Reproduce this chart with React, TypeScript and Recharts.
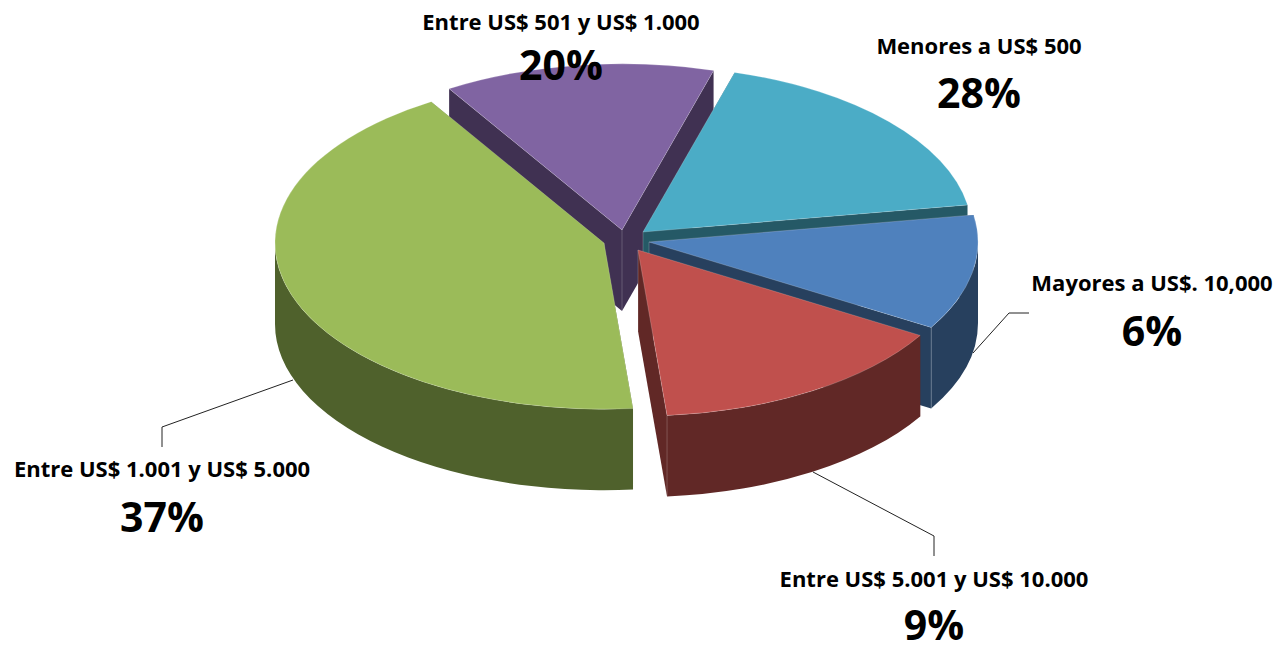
import React from 'react';
import { PieChart, Pie, Cell } from 'recharts';

// painted back to front: 501-1000 first, the big green slice last
const rangeLabels = [
  'Entre US$ 501 y US$ 1.000',
  'Menores a US$ 500',
  'Mayores a US$. 10,000',
  'Entre US$ 5.001 y US$ 10.000',
  'Entre US$ 1.001 y US$ 5.000',
];
// printed percentages on the chart
const percentLabels = ['20%', '28%', '6%', '9%', '37%'];
// the drawn wedges do not follow the printed percentages, so these are read off the arcs
const arcShares = [13.3, 17.9, 11.2, 15.0, 42.6];

const topColors = ['#8064A2', '#4BACC6', '#4F81BD', '#C0504D', '#9BBB59'];
const wallColors = ['#403152', '#255966', '#27405E', '#612826', '#4F612C'];
const explode = [[-6, -10], [15, -8], [21, 2], [10, 10], [-24, 3]];

// label anchors: [x, name baseline, percent baseline]
const labelSpots = [
  [561, 30, 80],
  [979, 54, 108],
  [1152, 291, 346],
  [934, 587, 640],
  [162, 477, 532],
];
const leaders = [
  null,
  null,
  '973,353 1009,313 1029,313',
  '813,472 934,536 934,556',
  '293,380 162,427 162,447',
];

const Y_SQUASH = 0.505;
const DEPTH = 81;
const FONT = '"Open Sans", sans-serif';

function Slice3D(props: any) {
  const { cx, cy, outerRadius, startAngle, endAngle, index } = props;
  const ox = cx + explode[index][0];
  const oy = cy + explode[index][1];
  const rx = outerRadius;
  const ry = outerRadius * Y_SQUASH;
  const at = (deg: number) => {
    const a = (deg * Math.PI) / 180;
    return [ox + rx * Math.cos(a), oy - ry * Math.sin(a)];
  };
  // recharts goes clockwise, start angle > end angle
  const [x1, y1] = at(startAngle);
  const [x2, y2] = at(endAngle);
  const large = startAngle - endAngle > 180 ? 1 : 0;
  const top = `M${ox},${oy} L${x1},${y1} A${rx},${ry} 0 ${large} 1 ${x2},${y2} Z`;

  const radialWall = (p: number[]) =>
    `M${ox},${oy} L${p[0]},${p[1]} L${p[0]},${p[1] + DEPTH} L${ox},${oy + DEPTH} Z`;

  // only the part of the rim facing the viewer (0 to -180 deg) has an outer wall
  const from = Math.min(startAngle, 0);
  const to = Math.max(endAngle, -180);
  let rim = null;
  if (from > to) {
    const [ax, ay] = at(from);
    const [bx, by] = at(to);
    rim = `M${ax},${ay} A${rx},${ry} 0 0 1 ${bx},${by} L${bx},${by + DEPTH} A${rx},${ry} 0 0 0 ${ax},${ay + DEPTH} Z`;
  }

  const wall = wallColors[index];
  const edge = { stroke: '#ffffff', strokeOpacity: 0.2 };
  return (
    <g>
      <path d={radialWall([x1, y1])} fill={wall} />
      <path d={radialWall([x2, y2])} fill={wall} />
      {rim && <path d={rim} fill={wall} />}
      <line x1={x2} y1={y2} x2={x2} y2={y2 + DEPTH} {...edge} />
      <line x1={ox} y1={oy} x2={ox} y2={oy + DEPTH} {...edge} />
      <path d={top} fill={topColors[index]} {...edge} strokeWidth={1} />
    </g>
  );
}

function SliceLabel(props: any) {
  const { index } = props;
  const [x, nameY, pctY] = labelSpots[index];
  return (
    <g fontFamily={FONT} fontWeight={700} fill="#000000" textAnchor="middle">
      {leaders[index] && <polyline points={leaders[index]} fill="none" stroke="#222222" strokeWidth={1} />}
      <text x={x} y={nameY} fontSize={22}>{rangeLabels[index]}</text>
      <text x={x} y={pctY} fontSize={41}>{percentLabels[index]}</text>
    </g>
  );
}

export default function App() {
  const data = rangeLabels.map((name, i) => ({ name, value: arcShares[i] }));
  return (
    <div style={{ position: 'absolute', left: 0, top: 0, width: 1281, height: 646, overflow: 'hidden', background: '#fff' }}>
      <PieChart width={1281} height={646} margin={{ top: 0, right: 0, bottom: 0, left: 0 }}>
        <Pie
          data={data}
          dataKey="value"
          nameKey="name"
          cx={628}
          cy={240}
          innerRadius={0}
          outerRadius={329}
          startAngle={121.7}
          endAngle={-238.3}
          paddingAngle={0}
          stroke="none"
          shape={Slice3D}
          label={SliceLabel}
          labelLine={false}
          isAnimationActive={false}
        >
          {data.map((d, i) => (
            <Cell key={d.name} fill={topColors[i]} />
          ))}
        </Pie>
      </PieChart>
    </div>
  );
}
